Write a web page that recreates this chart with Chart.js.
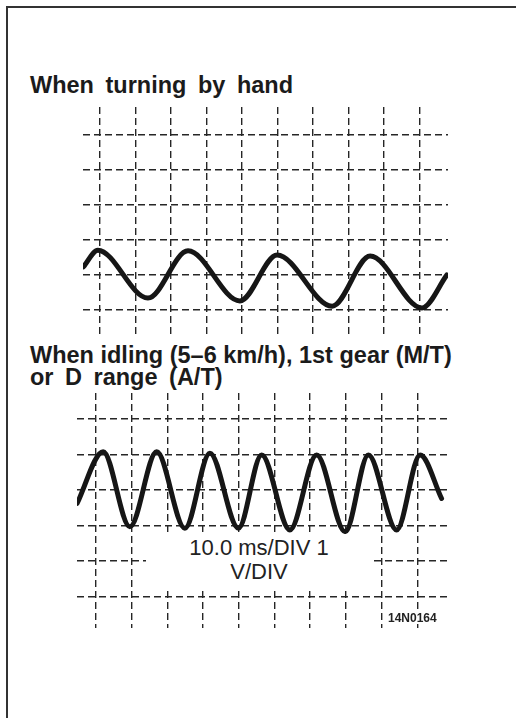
<!DOCTYPE html>
<html>
<head>
<meta charset="utf-8">
<script src="https://cdn.jsdelivr.net/npm/chart.js@4.4.1/dist/chart.umd.min.js"></script>
<style>
body { margin:0; background:#fff; width:516px; height:718px; overflow:hidden; position:relative; font-family:"Liberation Sans", Arial, sans-serif; color:#1b1b1b; }
#frame { position:absolute; left:6px; top:6px; width:530px; height:730px; border-left:2px solid #333; border-top:2px solid #333; }
.title { position:absolute; left:30px; font-weight:bold; font-size:23.5px; line-height:22px; white-space:nowrap; }
.wide { word-spacing:5px; }
canvas { position:absolute; }
#scale { position:absolute; left:146px; top:534px; width:226px; height:54px; background:#fff; text-align:center; font-size:22px; line-height:24px; padding-top:2px; box-sizing:border-box; color:#222; }
#code { position:absolute; left:386px; top:612px; background:#fff; font-weight:bold; font-size:12px; line-height:12px; padding:0 2px; color:#222; }
</style>
</head>
<body>
<div id="frame"></div>
<div class="title wide" style="top:74px">When turning by hand</div>
<canvas id="hand" width="365" height="228" style="left:83px; top:107px"></canvas>
<div class="title" style="top:344px">When idling (5–6 km/h), 1st gear (M/T)<br><span class="wide">or D range (A/T)</span></div>
<canvas id="idle" width="371" height="235" style="left:77px; top:393px"></canvas>
<div id="scale">10.0 ms/DIV 1<br>V/DIV</div>
<div id="code">14N0164</div>

<script>
// grid divisions (same for both screens)
var gridCols = [0, 1, 2, 3, 4, 5, 6, 7, 8, 9];
var handRows = [-1, 0, 1, 2, 3, 4];
var idleRows = [-3, -2, -1, 0, 1, 2];

// waveform, in divisions
var handX = [-0.47, -0.06, 1.35, 2.48, 3.94, 4.99, 6.54, 7.61, 9.07, 9.77];
var handY = [0.23, 0.71, -0.66, 0.69, -0.74, 0.57, -0.89, 0.54, -0.94, 0.0];

var idleX = [-0.53, 0.20, 0.95, 1.70, 2.49, 3.19, 3.99, 4.64, 5.43, 6.18, 6.98, 7.63, 8.42, 9.08, 9.68];
var idleY = [-0.38, 1.08, -1.04, 1.08, -1.08, 1.04, -1.08, 0.99, -1.13, 0.99, -1.18, 0.99, -1.13, 0.99, -0.24];

function points(xs, ys){
  var pts = [];
  for(var i = 0; i < xs.length; i++){
    pts.push({x: xs[i], y: ys[i]});
  }
  return pts;
}

function scope(id, xs, ys, xMin, xMax, yMin, yMax, rows){
  var grid = {color: "#262626", lineWidth: 1.4, drawTicks: false};
  var border = {display: false, dash: [7, 4]};
  new Chart(document.getElementById(id), {
    type: 'line',
    data: {
      datasets: [{
        data: points(xs, ys),
        borderColor: "#161616",
        borderWidth: 5,
        borderCapStyle: 'round',
        borderJoinStyle: 'round',
        cubicInterpolationMode: 'monotone',
        pointRadius: 0,
        fill: false
      }]
    },
    options: {
      responsive: false,
      animation: false,
      devicePixelRatio: 1,
      layout: {padding: 0},
      plugins: {legend: {display: false}, tooltip: {enabled: false}},
      scales: {
        x: {
          type: 'linear', min: xMin, max: xMax,
          ticks: {display: false},
          afterBuildTicks: function(s){ s.ticks = gridCols.map(function(v){ return {value: v}; }); },
          grid: grid, border: border
        },
        y: {
          type: 'linear', min: yMin, max: yMax,
          ticks: {display: false},
          afterBuildTicks: function(s){ s.ticks = rows.map(function(v){ return {value: v}; }); },
          grid: grid, border: border
        }
      }
    }
  });
}

scope("hand", handX, handY, -0.479, 9.803, -1.714, 4.8, handRows);
scope("idle", idleX, idleY, -0.532, 9.86, -3.898, 2.74, idleRows);
</script>
</body>
</html>
